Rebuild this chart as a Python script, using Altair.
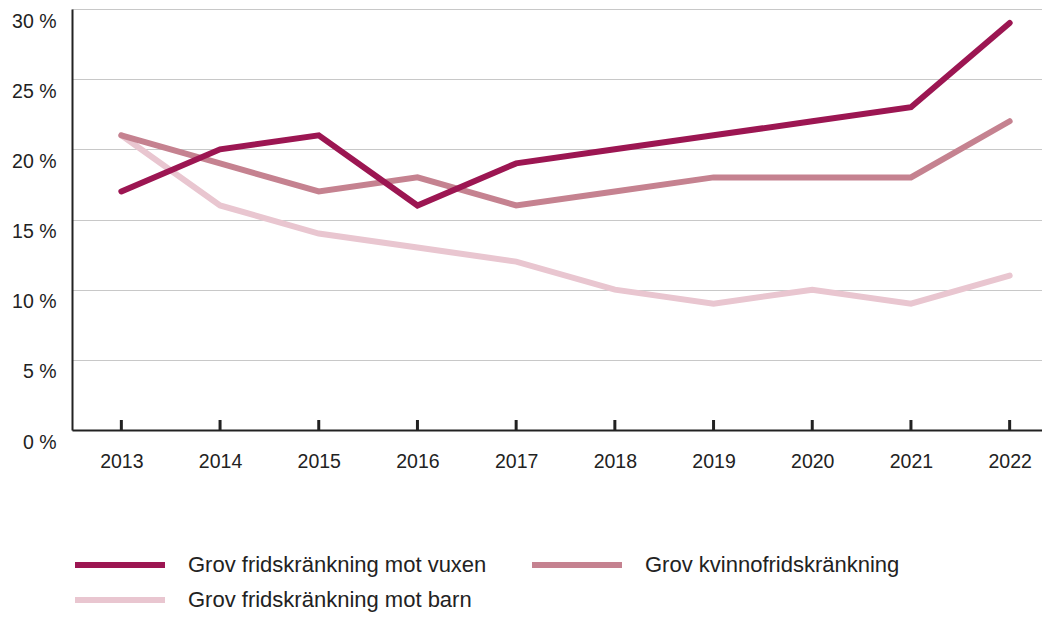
import altair as alt
import pandas as pd

years = ["2013", "2014", "2015", "2016", "2017", "2018", "2019", "2020", "2021", "2022"]
vuxen = [17, 20, 21, 16, 19, 20, 21, 22, 23, 29]
kvinno = [21, 19, 17, 18, 16, 17, 18, 18, 18, 22]
barn = [21, 16, 14, 13, 12, 10, 9, 10, 9, 11]

s_vuxen = "Grov fridskränkning mot vuxen"
s_kvinno = "Grov kvinnofridskränkning"
s_barn = "Grov fridskränkning mot barn"
series_order = [s_vuxen, s_kvinno, s_barn]
colors = ["#9c1652", "#c58290", "#e9c6d0"]

rows = []
for name, vals in [(s_barn, barn), (s_kvinno, kvinno), (s_vuxen, vuxen)]:
    for y, v in zip(years, vals):
        rows.append({"year": y, "value": v, "series": name})
df = pd.DataFrame(rows)
ticks_df = pd.DataFrame({"year": years})

FONT = "Liberation Sans"
TEXT = "#222222"

# plot is drawn 970px wide (page limit); the x range runs on to the page edge and is clipped
x_scale = alt.Scale(type="point", padding=0.5, range=[0, 987])

x_enc = alt.X(
    "year:O",
    scale=x_scale,
    axis=alt.Axis(
        title=None, labelAngle=0, labelAlign="center", ticks=False, domainColor=TEXT, domainWidth=2,
        labelFontSize=19.5, labelColor=TEXT, labelFont=FONT, labelPadding=31, grid=False,
    ),
)

lines = alt.Chart(df).mark_line(strokeWidth=6, strokeCap="round", strokeJoin="miter").encode(
    x=x_enc,
    y=alt.Y(
        "value:Q",
        scale=alt.Scale(domain=[0, 30]),
        axis=alt.Axis(
            title=None, values=[0, 5, 10, 15, 20, 25, 30], labelExpr="datum.value + ' %'",
            ticks=False, domainColor=TEXT, domainWidth=2, gridColor="#c8c8c8", gridWidth=1,
            labelFontSize=19.5, labelColor=TEXT, labelFont=FONT, labelBaseline="top",
            labelOffset=3, labelPadding=16,
        ),
    ),
    color=alt.Color(
        "series:N",
        scale=alt.Scale(domain=series_order, range=colors),
        legend=alt.Legend(
            title=None, orient="none", legendX=30, legendY=538, columns=2, direction="horizontal",
            symbolType="M-3,0L3,0", symbolSize=900, symbolStrokeWidth=6,
            labelFontSize=22, labelFont=FONT, labelColor=TEXT, labelOffset=50,
            columnPadding=33, rowPadding=5, padding=0, labelLimit=400,
        ),
    ),
    detail="series:N",
)

tick_marks = alt.Chart(ticks_df).mark_rule(color=TEXT, strokeWidth=3).encode(
    x=alt.X("year:O", scale=x_scale),
    y=alt.value(411),
    y2=alt.value(421),
)

chart = alt.layer(tick_marks, lines).properties(
    width=970,
    height=421,
    autosize=alt.AutoSizeParams(type="none"),
    padding={"left": 64, "top": 1, "right": 0, "bottom": 182},
).configure_view(stroke=None).configure(font=FONT)

chart.save("out.html", embed_options={"renderer": "svg", "actions": False})
